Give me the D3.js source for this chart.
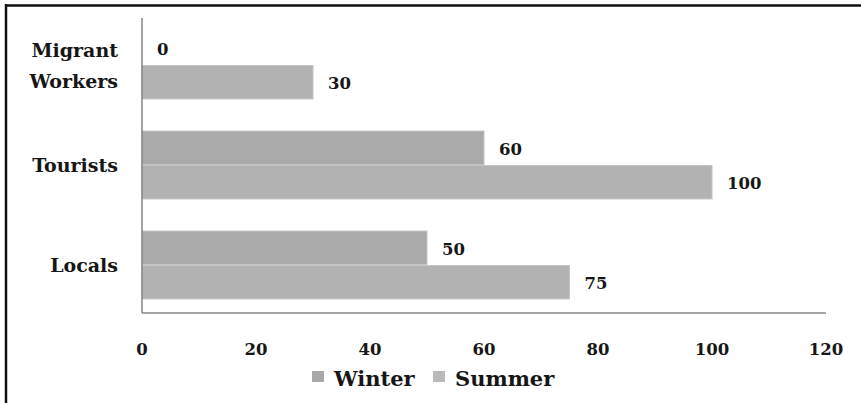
<!DOCTYPE html>
<html>
<head>
    <meta charset="utf-8">
    <style>
        body { margin: 0; background: #fff; }
        svg { display: block; font-family: 'DejaVu Serif', serif; font-weight: bold; }
    </style>
</head>
<body>
<svg width="861" height="403"></svg>

<script src="https://d3js.org/d3.v7.min.js"></script>
<script>
// data
let categories = ["Migrant Workers", "Tourists", "Locals"]
let seriesNames = ["Winter", "Summer"]
let winter = [0, 60, 50]
let summer = [30, 100, 75]
let xTicks = [0, 20, 40, 60, 80, 100, 120]

let colors = { Winter: "#aaaaaa", Summer: "#b2b2b2" }

let svg = d3.select("svg")

// frame, only top and left edges show
svg.append("line").attr("x1", 6).attr("x2", 6).attr("y1", 4).attr("y2", 403)
    .attr("stroke", "#111").attr("stroke-width", 2.5)
svg.append("line").attr("x1", 5).attr("x2", 861).attr("y1", 5.5).attr("y2", 5.5)
    .attr("stroke", "#111").attr("stroke-width", 2.5)

let x = d3.scaleLinear().domain([0, 120]).range([142, 826])

let y = d3.scaleBand().domain(categories).range([18, 312])
    .paddingInner(0.3).paddingOuter(0.12)

let ySub = d3.scaleBand().domain(seriesNames).range([0, y.bandwidth()]).padding(0.03)

let rows = categories.map((c, i) => ({ cat: c, Winter: winter[i], Summer: summer[i] }))

// bars
let groups = svg.append("g").selectAll("g")
    .data(rows)
    .join("g")
    .attr("transform", d => `translate(0,${y(d.cat)})`)

groups.selectAll("rect")
    .data(d => seriesNames.map(s => ({ s: s, v: d[s] })))
    .join("rect")
    .attr("x", x(0))
    .attr("y", d => ySub(d.s))
    .attr("width", d => x(d.v) - x(0))
    .attr("height", ySub.bandwidth())
    .attr("fill", d => colors[d.s])
    .attr("stroke", d => d.v > 0 ? "#c4c4c4" : "none")
    .attr("stroke-width", 1)

groups.selectAll("text")
    .data(d => seriesNames.map(s => ({ s: s, v: d[s] })))
    .join("text")
    .attr("x", d => x(d.v) + 15)
    .attr("y", d => ySub(d.s) + ySub.bandwidth() / 2 + 7)
    .attr("font-size", 16.5)
    .attr("fill", "#161616")
    .text(d => d.v)

// axes
svg.append("line").attr("x1", x(0)).attr("x2", x(0)).attr("y1", 18).attr("y2", 313)
    .attr("stroke", "#858585").attr("stroke-width", 1.5)
svg.append("line").attr("x1", x(0)).attr("x2", x(120)).attr("y1", 313).attr("y2", 313)
    .attr("stroke", "#858585").attr("stroke-width", 1.5)

svg.append("g").selectAll("text")
    .data(xTicks)
    .join("text")
    .attr("x", d => x(d))
    .attr("y", 355)
    .attr("text-anchor", "middle")
    .attr("font-size", 16.5)
    .attr("fill", "#161616")
    .text(d => d)

// category labels
svg.append("g").selectAll("text")
    .data(categories)
    .join("text")
    .attr("text-anchor", "end")
    .attr("font-size", 19)
    .attr("fill", "#161616")
    .each(function (d) {
        let words = d.split(" ")
        let cy = y(d) + y.bandwidth() / 2
        let lh = 31
        let start = cy - (words.length - 1) * lh / 2 + 7
        d3.select(this).selectAll("tspan")
            .data(words)
            .join("tspan")
            .attr("x", 118)
            .attr("y", (w, i) => start + i * lh)
            .text(w => w)
    })

// legend
let legendX = [312, 433]
let legend = svg.append("g").selectAll("g")
    .data(seriesNames)
    .join("g")
    .attr("transform", (d, i) => `translate(${legendX[i]},0)`)
legend.append("rect")
    .attr("x", 0).attr("y", 371).attr("width", 12).attr("height", 11)
    .attr("fill", d => d == "Winter" ? "#a8a8a8" : "#bababa")
legend.append("text")
    .attr("x", 22).attr("y", 386)
    .attr("font-size", 21)
    .attr("fill", "#161616")
    .text(d => d)
</script>
</body>
</html>
